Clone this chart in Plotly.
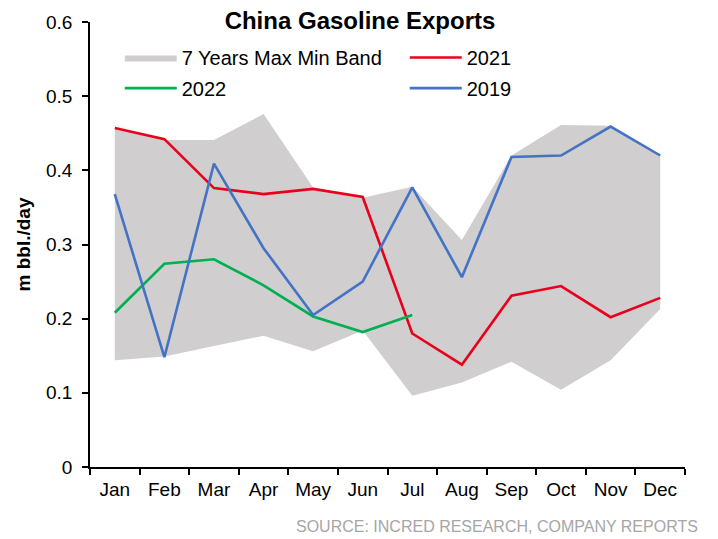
import plotly.graph_objects as go

months = ["Jan", "Feb", "Mar", "Apr", "May", "Jun", "Jul", "Aug", "Sep", "Oct", "Nov", "Dec"]

# 7-year max/min band (m bbl/day)
band_max = [0.456, 0.441, 0.441, 0.476, 0.377, 0.363, 0.378, 0.306, 0.420, 0.461, 0.460, 0.420]
band_min = [0.144, 0.149, 0.163, 0.177, 0.156, 0.184, 0.096, 0.114, 0.142, 0.104, 0.144, 0.213]

y2021 = [0.457, 0.442, 0.376, 0.368, 0.375, 0.364, 0.180, 0.138, 0.231, 0.244, 0.202, 0.228]
y2022 = [0.208, 0.274, 0.280, 0.245, 0.203, 0.182, 0.205]
y2019 = [0.368, 0.148, 0.409, 0.295, 0.205, 0.250, 0.377, 0.256, 0.418, 0.420, 0.459, 0.420]

y_ticks = [0, 0.1, 0.2, 0.3, 0.4, 0.5, 0.6]

FONT = "Liberation Sans, Arial, sans-serif"
RED = "#E8001C"
GREEN = "#00B050"
BLUE = "#4472C4"
GREY = "#D0CECE"

fig = go.Figure()

fig.add_trace(go.Scatter(
    x=months, y=band_min, mode="lines", line=dict(width=0, color=GREY),
    showlegend=False, hoverinfo="skip",
))
fig.add_trace(go.Scatter(
    x=months, y=band_max, mode="lines", line=dict(width=0, color=GREY),
    fill="tonexty", fillcolor=GREY, name="7 Years Max Min Band", legend="legend",
))
fig.add_trace(go.Scatter(
    x=months, y=y2021, mode="lines", line=dict(width=2.6, color=RED),
    name="2021", legend="legend",
))
fig.add_trace(go.Scatter(
    x=months[:len(y2022)], y=y2022, mode="lines", line=dict(width=2.6, color=GREEN),
    name="2022", legend="legend2",
))
fig.add_trace(go.Scatter(
    x=months, y=y2019, mode="lines", line=dict(width=2.6, color=BLUE),
    name="2019", legend="legend2",
))

legend_common = dict(
    orientation="h", xanchor="left", yanchor="middle", traceorder="normal",
    font=dict(family=FONT, size=20, color="#000000"),
    bgcolor="rgba(0,0,0,0)", itemwidth=52,
    entrywidth=218, entrywidthmode="pixels",
    itemclick=False, itemdoubleclick=False,
)

fig.update_layout(
    width=718, height=539,
    margin=dict(l=90, r=33, t=16, b=72),
    paper_bgcolor="#FFFFFF", plot_bgcolor="#FFFFFF",
    font=dict(family=FONT, color="#000000"),
    title=dict(
        text="<b>China Gasoline Exports</b>",
        font=dict(family=FONT, size=24, color="#000000"),
        x=360 / 718, xanchor="center", xref="container",
        y=1 - 21 / 539, yanchor="middle", yref="container",
    ),
    legend=dict(x=0.05, y=1 - (52 - 16) / 451, **legend_common),
    legend2=dict(x=0.05, y=1 - (83 - 16) / 451, **legend_common),
    showlegend=True,
    xaxis=dict(
        type="category", range=[-0.5, 11.5],
        showline=True, linecolor="#000000", linewidth=1.5,
        ticks="outside", tickson="boundaries", ticklen=6, tickcolor="#000000", tickwidth=1.5,
        showgrid=False, zeroline=False, ticklabelstandoff=4,
        tickfont=dict(family=FONT, size=19, color="#000000"),
    ),
    yaxis=dict(
        range=[0, 0.6], tickvals=y_ticks, ticktext=[f"{v:g}" for v in y_ticks],
        showline=True, linecolor="#000000", linewidth=1.5,
        ticks="outside", ticklen=6, tickcolor="#000000", tickwidth=1.5,
        showgrid=False, zeroline=False, ticklabelstandoff=6,
        tickfont=dict(family=FONT, size=19, color="#000000"),
        title=dict(text="<b>m bbl./day</b>", font=dict(family=FONT, size=19, color="#000000"),
                   standoff=10),
    ),
    annotations=[dict(
        text="SOURCE: INCRED RESEARCH, COMPANY REPORTS",
        xref="paper", yref="paper", x=(700 - 90) / 595, y=-(527 - 467) / 451,
        xanchor="right", yanchor="middle", showarrow=False,
        font=dict(family=FONT, size=16, color="#A6A6A6"),
    )],
)

fig.write_html("out.html")
